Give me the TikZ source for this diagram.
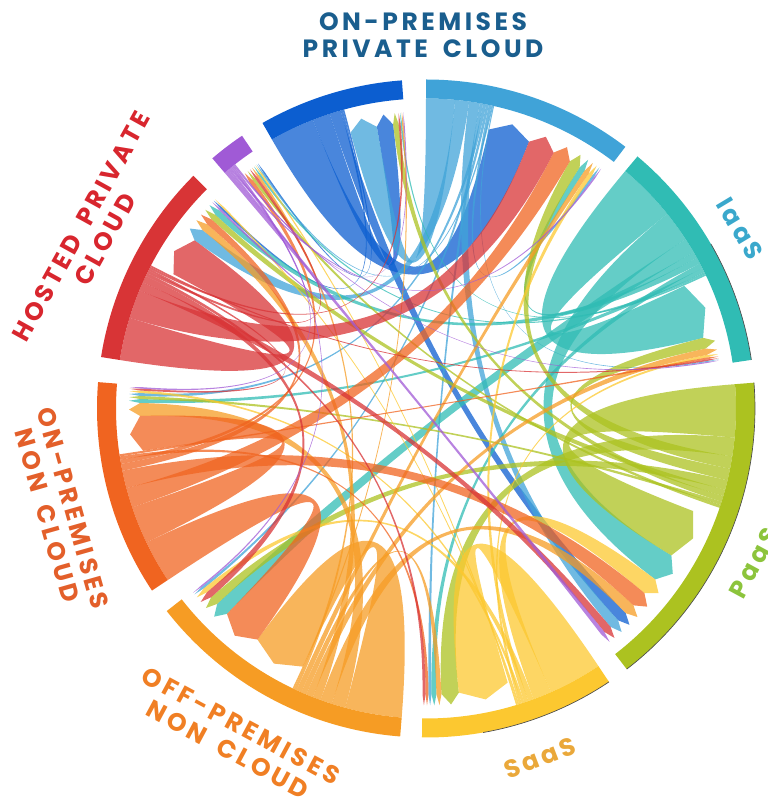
\documentclass[tikz,border=0pt]{standalone}
\usepackage{fontspec}
\newfontfamily\labfont[LetterSpace=14,WordSpace=1.7]{Poppins}
\definecolor{cDB}{HTML}{0C5ED0}
\definecolor{cLB}{HTML}{40A3D8}
\definecolor{cTE}{HTML}{30BCB4}
\definecolor{cGR}{HTML}{ACC220}
\definecolor{cYE}{HTML}{FCC830}
\definecolor{cOR}{HTML}{F69C24}
\definecolor{cRO}{HTML}{F06420}
\definecolor{cRE}{HTML}{D83436}
\definecolor{cPU}{HTML}{A05AD6}
\definecolor{tTop}{HTML}{1A5E8E}
\definecolor{tIaaS}{HTML}{3AA8CC}
\definecolor{tPaaS}{HTML}{8CC43C}
\definecolor{tSaaS}{HTML}{EAA83A}
\definecolor{tOff}{HTML}{F07F24}
\definecolor{tOnNC}{HTML}{E35F2A}
\definecolor{tHost}{HTML}{D8262E}
% ribbon: colour, source start, source end, target start, target end
\newcommand\rib[5]{\fill[#1,fill opacity=.75] (#2:310) arc[start angle=#2,end angle=#3,radius=310]
  .. controls (#3:103.3) and (#4:95.3) .. (#4:286) -- ({0.5*(#4)+0.5*(#5)}:297) -- (#5:286)
  .. controls (#5:95.3) and (#2:103.3) .. (#2:310) -- cycle;}
\newcommand\seg[3]{\fill[#1] (#2:329) arc[start angle=#2,end angle=#3,radius=329] -- (#3:310)
  arc[start angle=#3,end angle=#2,radius=310] -- cycle;}
\begin{document}
\begin{tikzpicture}[x=0.75pt,y=0.75pt,
  lab/.style={font=\labfont\bfseries\fontsize{18.75}{20.25}\selectfont,align=center,inner sep=0pt},
  rim/.style={draw=black!70,line width=0.5pt}]
\useasboundingbox (-426,-390.5) rectangle (341,408.5);
% segments
\seg{cDB}{119.8}{94.2}
\seg{cLB}{90}{52.7}
\seg{cTE}{50}{8.5}
\seg{cGR}{4.5}{-52.4}
\seg{cYE}{-56.2}{-90.7}
\seg{cOR}{-94.5}{-142}
\seg{cRO}{213.6}{175.4}
\seg{cRE}{171}{135}
\seg{cPU}{130.5}{124}
\draw[rim] (30:329) arc[start angle=30,end angle=8.5,radius=329];
\draw[rim] (4.5:329) arc[start angle=4.5,end angle=-52.4,radius=329];
\draw[rim] (-56.2:329) arc[start angle=-56.2,end angle=-80,radius=329];
% DB
\rib{cDB}{119.8}{111.4}{77.3}{68.9}
\rib{cDB}{111.4}{108.1}{99.9}{96.6}
\rib{cDB}{108.1}{106.0}{-45.7}{-47.8}
\rib{cDB}{106.0}{105.6}{135.8}{135.4}
\rib{cDB}{105.6}{105.3}{124.6}{124.3}
% LB
\rib{cLB}{90}{84.6}{105.3}{99.9}
\rib{cLB}{84.6}{82.0}{144.0}{141.4}
\rib{cLB}{82.0}{80.0}{-47.8}{-49.8}
\rib{cLB}{80.0}{79.4}{-88.9}{-89.5}
\rib{cLB}{79.4}{78.8}{177.5}{176.9}
\rib{cLB}{78.8}{78.3}{-141.0}{-141.5}
\rib{cLB}{78.3}{77.8}{54.5}{54.0}
\rib{cLB}{77.8}{77.5}{124.9}{124.6}
\rib{cLB}{77.5}{77.3}{9.6}{9.4}
% TE
\rib{cTE}{50}{38.9}{25.4}{14.3}
\rib{cTE}{38.9}{33.1}{-30.9}{-36.7}
\rib{cTE}{33.1}{30.3}{-134.1}{-136.9}
\rib{cTE}{30.3}{29.1}{57.5}{56.3}
\rib{cTE}{29.1}{27.9}{137.4}{136.2}
\rib{cTE}{27.9}{26.9}{-87.9}{-88.9}
\rib{cTE}{26.9}{26.1}{178.9}{178.1}
\rib{cTE}{26.1}{25.7}{125.6}{125.2}
\rib{cTE}{25.7}{25.4}{95.1}{94.8}
% GR
\rib{cGR}{4.5}{-5.4}{-21}{-30.9}
\rib{cGR}{-5.4}{-8.9}{-83.4}{-86.9}
\rib{cGR}{-8.9}{-11.2}{59.8}{57.5}
\rib{cGR}{-11.2}{-13.4}{14.3}{12.1}
\rib{cGR}{-13.4}{-15.2}{-136.9}{-138.7}
\rib{cGR}{-15.2}{-16.4}{138.6}{137.4}
\rib{cGR}{-16.4}{-17.5}{96.6}{95.5}
\rib{cGR}{-17.5}{-18.1}{178.1}{177.5}
\rib{cGR}{-18.1}{-18.7}{127.2}{126.6}
% YE
\rib{cYE}{-56.2}{-66.2}{-73.4}{-83.4}
\rib{cYE}{-66.2}{-69.7}{-36.7}{-40.2}
\rib{cYE}{-69.7}{-70.7}{-140.0}{-141.0}
\rib{cYE}{-70.7}{-71.5}{55.3}{54.5}
\rib{cYE}{-71.5}{-72.0}{176.9}{176.4}
\rib{cYE}{-72.0}{-72.5}{10.8}{10.3}
\rib{cYE}{-72.5}{-72.8}{135.4}{135.1}
\rib{cYE}{-72.8}{-73.1}{125.2}{124.9}
% OR
\rib{cOR}{-94.5}{-105.1}{-115.5}{-126.1}
\rib{cOR}{-105.1}{-107.7}{181.5}{178.9}
\rib{cOR}{-107.7}{-109.9}{-43.5}{-45.7}
\rib{cOR}{-109.9}{-111.4}{141.4}{139.9}
\rib{cOR}{-111.4}{-112.7}{12.1}{10.8}
\rib{cOR}{-112.7}{-113.7}{-86.9}{-87.9}
\rib{cOR}{-113.7}{-114.7}{56.3}{55.3}
\rib{cOR}{-114.7}{-115.2}{126.1}{125.6}
\rib{cOR}{-115.2}{-115.5}{94.8}{94.5}
% RO
\rib{cRO}{213.6}{205.6}{-126.1}{-134.1}
\rib{cRO}{205.6}{198.6}{188.5}{181.5}
\rib{cRO}{198.6}{194.9}{63.5}{59.8}
\rib{cRO}{194.9}{191.6}{-40.2}{-43.5}
\rib{cRO}{191.6}{190.3}{139.9}{138.6}
\rib{cRO}{190.3}{189.5}{128.0}{127.2}
\rib{cRO}{189.5}{188.9}{-89.5}{-90.1}
\rib{cRO}{188.9}{188.5}{10.3}{9.9}
% RE
\rib{cRE}{171}{163}{152.0}{144.0}
\rib{cRE}{163}{157.6}{68.9}{63.5}
\rib{cRE}{157.6}{156.0}{-49.8}{-51.4}
\rib{cRE}{156.0}{154.7}{-138.7}{-140.0}
\rib{cRE}{154.7}{154.1}{-90.1}{-90.7}
\rib{cRE}{154.1}{153.6}{126.6}{126.1}
\rib{cRE}{153.6}{153.2}{176.4}{176.0}
\rib{cRE}{153.2}{152.8}{95.5}{95.1}
\rib{cRE}{152.8}{152.5}{9.9}{9.6}
% PU
\rib{cPU}{130.5}{129.7}{-51.4}{-52.2}
\rib{cPU}{129.7}{129.3}{136.2}{135.8}
\rib{cPU}{129.3}{129.0}{54.0}{53.7}
\rib{cPU}{129.0}{128.7}{176.0}{175.7}
\rib{cPU}{128.7}{128.4}{-141.5}{-141.8}
\rib{cPU}{128.4}{128.2}{9.4}{9.2}
\rib{cPU}{128.2}{128.0}{94.5}{94.3}
% labels
\node[lab,text=tTop] (top) at (-3,373.6) {ON-PREMISES\\PRIVATE CLOUD};
\node[lab,text=tIaaS,rotate=-59] (iaas) at (314,180) {IaaS};
\node[lab,text=tPaaS,rotate=61.6] (paas) at (328,-154.5) {PaaS};
\node[lab,text=tSaaS,rotate=21] (saas) at (114,-349.5) {SaaS};
\node[lab,text=tOff,rotate=-28.3] (off) at (-191.5,-329) {OFF-PREMISES\\NON CLOUD};
\node[lab,text=tOnNC,rotate=-74.2] (onnc) at (-366,-103.5) {ON-PREMISES\\NON CLOUD};
\node[lab,text=tHost,rotate=61] (host) at (-333,175.5) {HOSTED PRIVATE\\CLOUD};
\end{tikzpicture}
\end{document}
